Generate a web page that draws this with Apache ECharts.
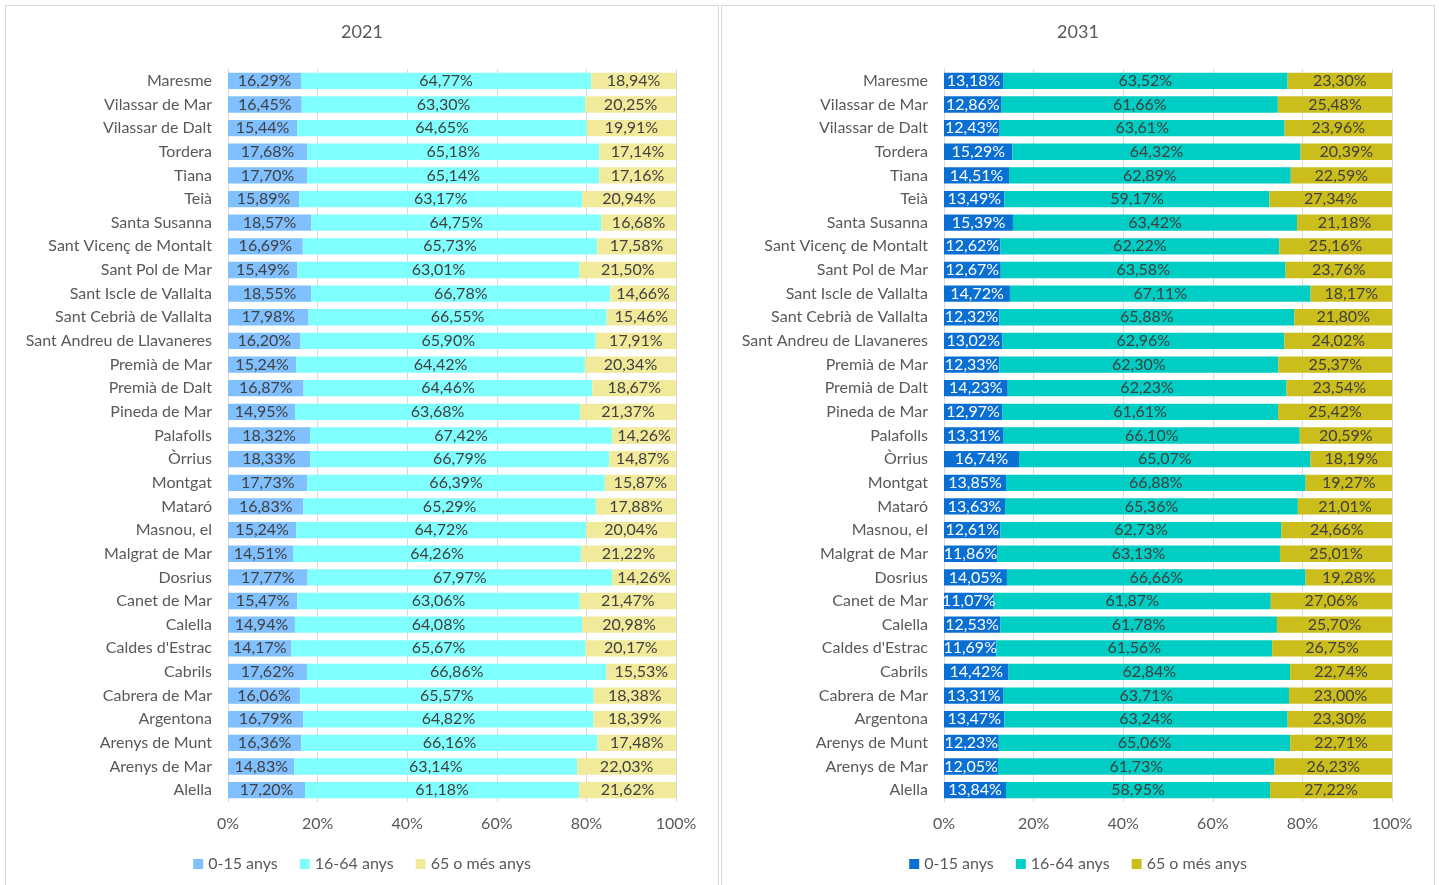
<!DOCTYPE html>
<html>
<head>
<meta charset="utf-8">
<script src="https://cdn.jsdelivr.net/npm/echarts@6/dist/echarts.min.js"></script>
<style>
html,body{margin:0;padding:0;background:#fff;width:1439px;height:885px;overflow:hidden;}
.panel{position:absolute;top:5px;height:884px;border:1px solid #d9d9d9;box-sizing:border-box;background:#fff;}
#c1{left:5px;width:714px;}
#c2{left:721px;width:714px;}
</style>
</head>
<body>
<div id="c1" class="panel"></div>
<div id="c2" class="panel"></div>
<script>
const categories = ["Maresme","Vilassar de Mar","Vilassar de Dalt","Tordera","Tiana","Teià","Santa Susanna","Sant Vicenç de Montalt","Sant Pol de Mar","Sant Iscle de Vallalta","Sant Cebrià de Vallalta","Sant Andreu de Llavaneres","Premià de Mar","Premià de Dalt","Pineda de Mar","Palafolls","Òrrius","Montgat","Mataró","Masnou, el","Malgrat de Mar","Dosrius","Canet de Mar","Calella","Caldes d'Estrac","Cabrils","Cabrera de Mar","Argentona","Arenys de Munt","Arenys de Mar","Alella"];
const seriesNames = ["0-15 anys","16-64 anys","65 o més anys"];
const xTicks = [0,20,40,60,80,100];

const y2021_0_15 = [16.29,16.45,15.44,17.68,17.70,15.89,18.57,16.69,15.49,18.55,17.98,16.20,15.24,16.87,14.95,18.32,18.33,17.73,16.83,15.24,14.51,17.77,15.47,14.94,14.17,17.62,16.06,16.79,16.36,14.83,17.20];
const y2021_16_64 = [64.77,63.30,64.65,65.18,65.14,63.17,64.75,65.73,63.01,66.78,66.55,65.90,64.42,64.46,63.68,67.42,66.79,66.39,65.29,64.72,64.26,67.97,63.06,64.08,65.67,66.86,65.57,64.82,66.16,63.14,61.18];
const y2021_65 = [18.94,20.25,19.91,17.14,17.16,20.94,16.68,17.58,21.50,14.66,15.46,17.91,20.34,18.67,21.37,14.26,14.87,15.87,17.88,20.04,21.22,14.26,21.47,20.98,20.17,15.53,18.38,18.39,17.48,22.03,21.62];

const y2031_0_15 = [13.18,12.86,12.43,15.29,14.51,13.49,15.39,12.62,12.67,14.72,12.32,13.02,12.33,14.23,12.97,13.31,16.74,13.85,13.63,12.61,11.86,14.05,11.07,12.53,11.69,14.42,13.31,13.47,12.23,12.05,13.84];
const y2031_16_64 = [63.52,61.66,63.61,64.32,62.89,59.17,63.42,62.22,63.58,67.11,65.88,62.96,62.30,62.23,61.61,66.10,65.07,66.88,65.36,62.73,63.13,66.66,61.87,61.78,61.56,62.84,63.71,63.24,65.06,61.73,58.95];
const y2031_65 = [23.30,25.48,23.96,20.39,22.59,27.34,21.18,25.16,23.76,18.17,21.80,24.02,25.37,23.54,25.42,20.59,18.19,19.27,21.01,24.66,25.01,19.28,27.06,25.70,26.75,22.74,23.00,23.30,22.71,26.23,27.22];

const FONT = "Lato, 'Open Sans', sans-serif";
const GREY = '#595959';

function fmt(v){ return v.toFixed(2).replace('.', ',') + '%'; }

function makeOption(title, data, colors, labelColors){
  return {
    animation:false,
    textStyle:{fontFamily:FONT},
    title:{text:title,left:'center',top:12,textStyle:{fontFamily:FONT,fontSize:18,fontWeight:'normal',color:GREY}},
    legend:{
      bottom:11,left:'center',itemWidth:10,itemHeight:10,itemGap:22,icon:'rect',
      textStyle:{fontFamily:FONT,fontSize:16,color:GREY},
      data:seriesNames
    },
    grid:{left:222,right:42,top:63,bottom:86},
    xAxis:{
      type:'value',min:0,max:100,interval:20,
      axisLabel:{formatter:v=>xTicks.includes(v)?v+'%':'',fontFamily:FONT,fontSize:16,color:GREY,margin:14},
      axisLine:{show:false},axisTick:{show:false},
      splitLine:{show:true,lineStyle:{color:'#d9d9d9',width:1}}
    },
    yAxis:{
      type:'category',data:categories,inverse:true,
      axisLabel:{fontFamily:FONT,fontSize:16,color:GREY,margin:16},
      axisLine:{show:true,lineStyle:{color:'#d9d9d9'}},axisTick:{show:false}
    },
    series:data.map((d,i)=>({
      name:seriesNames[i],type:'bar',stack:'t',data:d,barCategoryGap:'31%',
      itemStyle:{color:colors[i]},
      label:{show:true,position:'inside',formatter:p=>fmt(p.value),fontFamily:FONT,fontSize:16,color:labelColors[i]}
    }))
  };
}

const c1 = echarts.init(document.getElementById('c1'));
c1.setOption(makeOption('2021',[y2021_0_15,y2021_16_64,y2021_65],['#80C0FF','#80FFFF','#F2EA9B'],['#404040','#404040','#404040']));
const c2 = echarts.init(document.getElementById('c2'));
c2.setOption(makeOption('2031',[y2031_0_15,y2031_16_64,y2031_65],['#0A6FD2','#00CDC3','#CBBD1C'],['#ffffff','#404040','#404040']));
</script>
</body>
</html>
